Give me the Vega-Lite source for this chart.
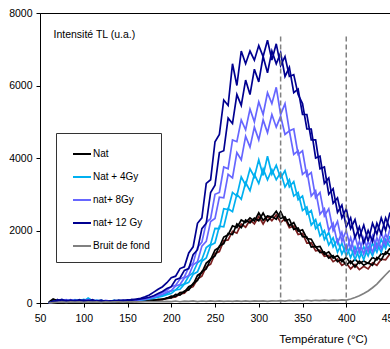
{
"$schema": "https://vega.github.io/schema/vega-lite/v6.json",
"width": 350, "height": 290,
"autosize": {"type": "none"},
"padding": {"left": 40, "top": 13, "right": 0, "bottom": 46},
"background": "white",
"config": {"font": "Liberation Sans", "view": {"stroke": "black", "strokeWidth": 1}},
"datasets": {
"keys": [{"k":"nr","s":"rouge"},{"k":"n1","s":"Nat"},{"k":"n2","s":"Nat"},{"k":"a1","s":"Nat + 4Gy"},{"k":"a2","s":"Nat + 4Gy"},{"k":"b1","s":"nat+ 8Gy"},{"k":"b2","s":"nat+ 8Gy"},{"k":"c1","s":"nat+ 12 Gy"},{"k":"c2","s":"nat+ 12 Gy"},{"k":"bg","s":"Bruit de fond"}],
"curves": [
{"t":60,"n1":20,"n2":10,"nr":0,"a1":0,"a2":0,"b1":0,"b2":0,"c1":0,"c2":0,"bg":0},
{"t":65,"n1":110,"n2":70,"nr":60,"a1":40,"a2":30,"b1":20,"b2":30,"c1":50,"c2":20,"bg":10},
{"t":70,"n1":60,"n2":90,"nr":40,"a1":70,"a2":50,"b1":80,"b2":40,"c1":60,"c2":90,"bg":20},
{"t":75,"n1":80,"n2":50,"nr":70,"a1":40,"a2":90,"b1":60,"b2":70,"c1":100,"c2":50,"bg":30},
{"t":80,"n1":50,"n2":70,"nr":40,"a1":80,"a2":60,"b1":40,"b2":90,"c1":50,"c2":70,"bg":20},
{"t":85,"n1":70,"n2":40,"nr":60,"a1":50,"a2":70,"b1":90,"b2":50,"c1":80,"c2":40,"bg":30},
{"t":90,"n1":40,"n2":60,"nr":50,"a1":90,"a2":40,"b1":60,"b2":80,"c1":50,"c2":70,"bg":25},
{"t":95,"n1":60,"n2":50,"nr":30,"a1":60,"a2":80,"b1":50,"b2":40,"c1":90,"c2":60,"bg":30},
{"t":100,"n1":50,"n2":70,"nr":60,"a1":100,"a2":50,"b1":70,"b2":60,"c1":50,"c2":80,"bg":20},
{"t":105,"n1":40,"n2":50,"nr":40,"a1":70,"a2":140,"b1":60,"b2":90,"c1":70,"c2":50,"bg":30},
{"t":110,"n1":60,"n2":40,"nr":50,"a1":50,"a2":60,"b1":80,"b2":50,"c1":60,"c2":90,"bg":25},
{"t":115,"n1":30,"n2":60,"nr":40,"a1":80,"a2":50,"b1":40,"b2":70,"c1":50,"c2":40,"bg":30},
{"t":120,"n1":50,"n2":30,"nr":40,"a1":40,"a2":70,"b1":60,"b2":40,"c1":80,"c2":60,"bg":20},
{"t":125,"n1":40,"n2":50,"nr":30,"a1":60,"a2":40,"b1":50,"b2":70,"c1":40,"c2":50,"bg":30},
{"t":130,"n1":30,"n2":40,"nr":50,"a1":50,"a2":60,"b1":40,"b2":50,"c1":60,"c2":40,"bg":25},
{"t":135,"n1":50,"n2":30,"nr":40,"a1":70,"a2":40,"b1":60,"b2":40,"c1":50,"c2":70,"bg":30},
{"t":140,"n1":40,"n2":50,"nr":30,"a1":50,"a2":70,"b1":50,"b2":60,"c1":80,"c2":50,"bg":30},
{"t":145,"n1":30,"n2":40,"nr":50,"a1":60,"a2":50,"b1":70,"b2":50,"c1":60,"c2":80,"bg":25},
{"t":150,"n1":50,"n2":30,"nr":40,"a1":70,"a2":60,"b1":50,"b2":70,"c1":90,"c2":60,"bg":30},
{"t":155,"n1":40,"n2":60,"nr":50,"a1":60,"a2":80,"b1":70,"b2":60,"c1":80,"c2":100,"bg":30},
{"t":160,"n1":60,"n2":50,"nr":40,"a1":80,"a2":70,"b1":90,"b2":80,"c1":110,"c2":90,"bg":35},
{"t":165,"n1":50,"n2":70,"nr":60,"a1":90,"a2":80,"b1":100,"b2":90,"c1":130,"c2":110,"bg":30},
{"t":170,"n1":70,"n2":60,"nr":50,"a1":110,"a2":90,"b1":120,"b2":100,"c1":170,"c2":130,"bg":35},
{"t":175,"n1":60,"n2":80,"nr":70,"a1":130,"a2":110,"b1":150,"b2":130,"c1":220,"c2":160,"bg":40},
{"t":180,"n1":80,"n2":70,"nr":60,"a1":150,"a2":130,"b1":190,"b2":160,"c1":300,"c2":200,"bg":35},
{"t":185,"n1":90,"n2":100,"nr":80,"a1":180,"a2":160,"b1":230,"b2":200,"c1":380,"c2":260,"bg":40},
{"t":190,"n1":110,"n2":90,"nr":100,"a1":220,"a2":190,"b1":290,"b2":240,"c1":450,"c2":320,"bg":40},
{"t":195,"n1":130,"n2":140,"nr":120,"a1":260,"a2":230,"b1":350,"b2":300,"c1":560,"c2":400,"bg":45},
{"t":200,"n1":190,"n2":140,"nr":150,"a1":330,"a2":260,"b1":450,"b2":340,"c1":700,"c2":450,"bg":40},
{"t":205,"n1":180,"n2":240,"nr":170,"a1":360,"a2":360,"b1":490,"b2":470,"c1":740,"c2":640,"bg":55},
{"t":210,"n1":290,"n2":220,"nr":250,"a1":480,"a2":380,"b1":660,"b2":510,"c1":950,"c2":690,"bg":35},
{"t":215,"n1":300,"n2":330,"nr":270,"a1":530,"a2":520,"b1":720,"b2":690,"c1":1000,"c2":900,"bg":50},
{"t":220,"n1":450,"n2":360,"nr":400,"a1":740,"a2":570,"b1":980,"b2":760,"c1":1380,"c2":950,"bg":45},
{"t":225,"n1":510,"n2":540,"nr":450,"a1":840,"a2":790,"b1":1100,"b2":1050,"c1":1550,"c2":1330,"bg":60},
{"t":230,"n1":760,"n2":620,"nr":660,"a1":1110,"a2":860,"b1":1530,"b2":1140,"c1":2200,"c2":1470,"bg":40},
{"t":235,"n1":840,"n2":870,"nr":740,"a1":1200,"a2":1150,"b1":1680,"b2":1570,"c1":2350,"c2":2050,"bg":55},
{"t":240,"n1":1100,"n2":940,"nr":1000,"a1":1530,"a2":1240,"b1":2220,"b2":1700,"c1":3300,"c2":2200,"bg":45},
{"t":245,"n1":1200,"n2":1210,"nr":1070,"a1":1620,"a2":1590,"b1":2330,"b2":2250,"c1":3400,"c2":3050,"bg":60},
{"t":250,"n1":1460,"n2":1300,"nr":1360,"a1":2060,"a2":1660,"b1":3000,"b2":2330,"c1":4450,"c2":3250,"bg":45},
{"t":255,"n1":1540,"n2":1570,"nr":1420,"a1":2050,"a2":2120,"b1":3050,"b2":2920,"c1":4650,"c2":4150,"bg":60},
{"t":260,"n1":1820,"n2":1640,"nr":1720,"a1":2600,"a2":2100,"b1":3750,"b2":2900,"c1":5600,"c2":4200,"bg":45},
{"t":265,"n1":1880,"n2":1920,"nr":1740,"a1":2580,"a2":2600,"b1":3700,"b2":3550,"c1":5450,"c2":5100,"bg":55},
{"t":270,"n1":2130,"n2":1890,"nr":1980,"a1":3050,"a2":2520,"b1":4500,"b2":3450,"c1":6600,"c2":4950,"bg":45},
{"t":275,"n1":2080,"n2":2180,"nr":1930,"a1":2950,"a2":3000,"b1":4450,"b2":4150,"c1":6000,"c2":5750,"bg":60},
{"t":280,"n1":2290,"n2":2080,"nr":2180,"a1":3480,"a2":2860,"b1":5050,"b2":3950,"c1":6950,"c2":5450,"bg":45},
{"t":285,"n1":2220,"n2":2290,"nr":2090,"a1":3250,"a2":3320,"b1":4780,"b2":4600,"c1":6600,"c2":6150,"bg":60},
{"t":290,"n1":2350,"n2":2210,"nr":2290,"a1":3700,"a2":3100,"b1":5350,"b2":4300,"c1":6950,"c2":5750,"bg":45},
{"t":295,"n1":2260,"n2":2340,"nr":2180,"a1":3480,"a2":3550,"b1":5000,"b2":4850,"c1":6700,"c2":6450,"bg":60},
{"t":300,"n1":2490,"n2":2270,"nr":2390,"a1":3950,"a2":3300,"b1":5550,"b2":4500,"c1":7100,"c2":6100,"bg":50},
{"t":305,"n1":2280,"n2":2480,"nr":2180,"a1":3520,"a2":3700,"b1":5200,"b2":5050,"c1":6800,"c2":6800,"bg":60},
{"t":310,"n1":2400,"n2":2260,"nr":2390,"a1":4050,"a2":3400,"b1":5800,"b2":4700,"c1":7250,"c2":6350,"bg":45},
{"t":315,"n1":2370,"n2":2390,"nr":2270,"a1":3550,"a2":3680,"b1":5500,"b2":5200,"c1":6700,"c2":6950,"bg":60},
{"t":320,"n1":2530,"n2":2310,"nr":2430,"a1":3800,"a2":3400,"b1":5950,"b2":4850,"c1":7150,"c2":6600,"bg":55},
{"t":325,"n1":2330,"n2":2520,"nr":2220,"a1":3450,"a2":3600,"b1":5200,"b2":5150,"c1":6550,"c2":6900,"bg":65},
{"t":330,"n1":2380,"n2":2270,"nr":2330,"a1":3650,"a2":3200,"b1":5500,"b2":4650,"c1":6800,"c2":6250,"bg":50},
{"t":335,"n1":2130,"n2":2310,"nr":2080,"a1":3200,"a2":3400,"b1":4750,"b2":4750,"c1":6250,"c2":6500,"bg":70},
{"t":340,"n1":2220,"n2":2030,"nr":2120,"a1":3350,"a2":2950,"b1":4800,"b2":4100,"c1":6300,"c2":5800,"bg":55},
{"t":345,"n1":1980,"n2":2070,"nr":1890,"a1":2850,"a2":3050,"b1":4100,"b2":4200,"c1":5750,"c2":5900,"bg":70},
{"t":350,"n1":2020,"n2":1830,"nr":1920,"a1":2950,"a2":2550,"b1":4200,"b2":3550,"c1":5500,"c2":5200,"bg":55},
{"t":355,"n1":1780,"n2":1820,"nr":1650,"a1":2450,"a2":2650,"b1":3500,"b2":3650,"c1":4800,"c2":5200,"bg":75},
{"t":360,"n1":1760,"n2":1540,"nr":1660,"a1":2550,"a2":2150,"b1":3600,"b2":2950,"c1":4800,"c2":4500,"bg":60},
{"t":365,"n1":1540,"n2":1560,"nr":1440,"a1":2050,"a2":2300,"b1":2900,"b2":3100,"c1":4000,"c2":4500,"bg":75},
{"t":370,"n1":1560,"n2":1390,"nr":1460,"a1":2200,"a2":1850,"b1":3050,"b2":2450,"c1":4050,"c2":3700,"bg":65},
{"t":375,"n1":1340,"n2":1410,"nr":1290,"a1":1750,"a2":2000,"b1":2400,"b2":2600,"c1":3300,"c2":3750,"bg":80},
{"t":380,"n1":1410,"n2":1240,"nr":1310,"a1":1950,"a2":1600,"b1":2600,"b2":2000,"c1":3450,"c2":3000,"bg":65},
{"t":385,"n1":1240,"n2":1310,"nr":1140,"a1":1550,"a2":1800,"b1":2000,"b2":2200,"c1":2750,"c2":3150,"bg":80},
{"t":390,"n1":1310,"n2":1140,"nr":1210,"a1":1750,"a2":1400,"b1":2250,"b2":1650,"c1":2900,"c2":2500,"bg":70},
{"t":395,"n1":1140,"n2":1210,"nr":1040,"a1":1350,"a2":1650,"b1":1700,"b2":1950,"c1":2350,"c2":2700,"bg":85},
{"t":400,"n1":1260,"n2":1040,"nr":1110,"a1":1600,"a2":1300,"b1":2000,"b2":1450,"c1":2600,"c2":2100,"bg":80},
{"t":405,"n1":1090,"n2":1160,"nr":940,"a1":1250,"a2":1550,"b1":1500,"b2":1800,"c1":2050,"c2":2350,"bg":110},
{"t":410,"n1":1210,"n2":990,"nr":1060,"a1":1550,"a2":1200,"b1":1850,"b2":1350,"c1":2300,"c2":1800,"bg":150},
{"t":415,"n1":1090,"n2":1160,"nr":920,"a1":1230,"a2":1500,"b1":1400,"b2":1700,"c1":1800,"c2":2100,"bg":200},
{"t":420,"n1":1160,"n2":1040,"nr":1010,"a1":1550,"a2":1200,"b1":1800,"b2":1350,"c1":2150,"c2":1650,"bg":260},
{"t":425,"n1":1090,"n2":1110,"nr":940,"a1":1300,"a2":1550,"b1":1420,"b2":1700,"c1":1700,"c2":2000,"bg":330},
{"t":430,"n1":1260,"n2":1040,"nr":1110,"a1":1650,"a2":1300,"b1":1850,"b2":1400,"c1":2200,"c2":1700,"bg":420},
{"t":435,"n1":1190,"n2":1260,"nr":1040,"a1":1400,"a2":1650,"b1":1500,"b2":1800,"c1":1900,"c2":2200,"bg":520},
{"t":440,"n1":1360,"n2":1190,"nr":1210,"a1":1750,"a2":1400,"b1":1950,"b2":1500,"c1":2350,"c2":1900,"bg":650},
{"t":445,"n1":1340,"n2":1410,"nr":1190,"a1":1500,"a2":1750,"b1":1600,"b2":1900,"c1":2000,"c2":2350,"bg":780},
{"t":450,"n1":1510,"n2":1340,"nr":1360,"a1":1850,"a2":1550,"b1":2050,"b2":1650,"c1":2500,"c2":2050,"bg":900}
]},
"layer": [
{
"data": {"name": "curves"},
"transform": [
{"fold": ["nr","n1","n2","a1","a2","b1","b2","c1","c2","bg"], "as": ["k","v"]},
{"lookup": "k", "from": {"data": {"name": "keys"}, "key": "k", "fields": ["s"]}}
],
"mark": {"type": "line", "strokeWidth": 1.7},
"encoding": {
"x": {"field": "t", "type": "quantitative", "scale": {"domain": [50, 450], "nice": false},
"axis": {"values": [50,100,150,200,250,300,350,400,450], "title": "Température (°C)", "grid": false, "tickSize": 4, "labelPadding": 6, "labelFlush": false, "labelBound": false, "labelOverlap": false, "domainColor": "black", "tickColor": "black", "labelColor": "black", "labelFontSize": 10.5, "titleFontSize": 11.5, "titleFontWeight": "normal", "titleColor": "black", "titleX": 283, "titleY": 36, "titleAlign": "center", "titleBaseline": "middle"}},
"y": {"field": "v", "type": "quantitative", "scale": {"domain": [0, 8000], "nice": false},
"axis": {"values": [0,1000,2000,3000,4000,5000,6000,7000,8000], "format": "d", "title": "Intensité TL (u.a.)", "grid": false, "tickSize": 4, "labelPadding": 4, "domainColor": "black", "tickColor": "black", "labelColor": "black", "labelFontSize": 10.5, "titleFontSize": 10.5, "titleFontWeight": "normal", "titleColor": "black", "titleAngle": 0, "titleX": 13, "titleY": 21, "titleAlign": "left", "titleBaseline": "middle"}},
"detail": {"field": "k", "type": "nominal"},
"color": {"field": "s", "type": "nominal",
"scale": {"domain": ["Nat","Nat + 4Gy","nat+ 8Gy","nat+ 12 Gy","Bruit de fond","rouge"], "range": ["#000000","#00B0F0","#6666FF","#000090","#808080","#7a1e1e"]},
"legend": {"title": null, "orient": "none", "legendX": 16, "legendY": 120, "values": ["Nat","Nat + 4Gy","nat+ 8Gy","nat+ 12 Gy","Bruit de fond"], "symbolType": "stroke", "symbolSize": 324, "symbolStrokeWidth": 2, "labelFont": "Liberation Sans", "labelFontSize": 10, "labelColor": "black", "padding": 11, "symbolOffset": 5, "rowPadding": 8, "strokeColor": "#333", "fillColor": "white", "labelOffset": 1, "labelLimit": 200}}
}
},
{
"data": {"values": [{"t": 325}, {"t": 400}]},
"mark": {"type": "rule", "color": "#808080", "strokeWidth": 1.5, "strokeDash": [5, 3]},
"encoding": {
"x": {"field": "t", "type": "quantitative"},
"y": {"datum": 7350},
"y2": {"datum": 0}
}
}
]
}
